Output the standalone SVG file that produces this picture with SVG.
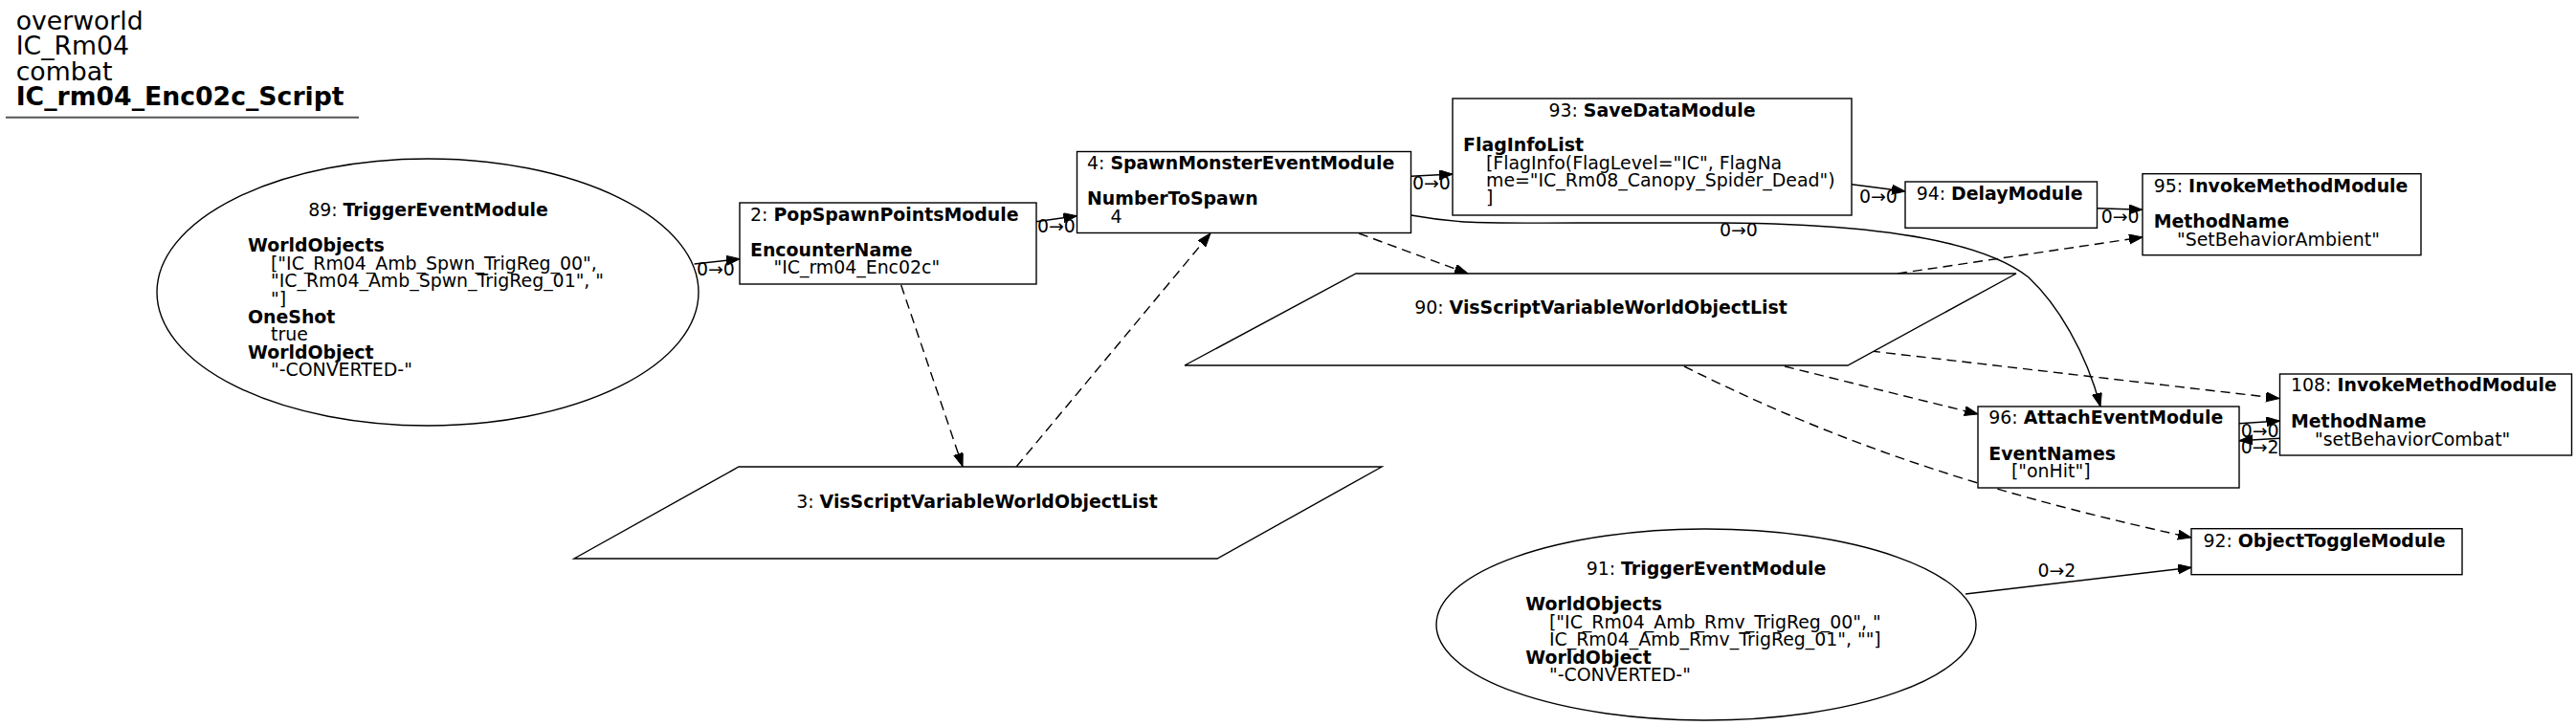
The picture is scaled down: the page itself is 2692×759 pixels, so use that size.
<svg xmlns="http://www.w3.org/2000/svg" width="2692" height="759" viewBox="0 0 2692 759">
<style>
text{font-family:"DejaVu Sans","Liberation Sans",sans-serif;font-size:18.9px;fill:#000}
.b{font-weight:bold}
.t{font-size:26.7px}
.shape{fill:#fff;stroke:#000;stroke-width:1.4}
.e{fill:none;stroke:#000;stroke-width:1.4}
.d{fill:none;stroke:#000;stroke-width:1.4;stroke-dasharray:10,6}
</style>
<defs>
<marker id="ah" markerUnits="userSpaceOnUse" markerWidth="16" markerHeight="12" refX="14" refY="5" orient="auto">
<path d="M0,0 L14,5 L0,10 z" fill="#000" stroke="#000" stroke-width="1"/>
</marker>
</defs>
<rect width="2692" height="759" fill="#fff"/>
<g id="title">
<text class="t" x="16.7" y="30.5">overworld</text>
<text class="t" x="16.7" y="57.2">IC_Rm04</text>
<text class="t" x="16.7" y="83.6">combat</text>
<text class="t b" x="16.7" y="110">IC_rm04_Enc02c_Script</text>
<line x1="6" y1="122.7" x2="375" y2="122.7" stroke="#555" stroke-width="2"/>
</g>
<g id="connectors">
<path class="e" d="M725.5,276 L773,270.7" marker-end="url(#ah)"/>
<text x="728" y="288">0→0</text>
<path class="e" d="M1082.5,231.7 L1125.5,225.7" marker-end="url(#ah)"/>
<text x="1084" y="243.3">0→0</text>
<path class="e" d="M1474.5,184.3 L1518,182" marker-end="url(#ah)"/>
<text x="1476" y="198.3">0→0</text>
<path class="e" d="M1935,192.7 L1991,200" marker-end="url(#ah)"/>
<text x="1943" y="211.7">0→0</text>
<path class="e" d="M2191.7,217.7 L2238.7,219.3" marker-end="url(#ah)"/>
<text x="2195.7" y="233.3">0→0</text>
<path class="e" d="M1474.5,225 C1530,235 1560,233 1650,233 L1800,233 C1950,234 2070,250 2120,290 C2150,318 2180,368 2195,425" marker-end="url(#ah)"/>
<text x="1797" y="246.7">0→0</text>
<path class="e" d="M2340,442.7 L2382.5,440" marker-end="url(#ah)"/>
<text x="2341.7" y="457.3">0→0</text>
<path class="e" d="M2382.5,458.3 L2340,460.7" marker-end="url(#ah)"/>
<text x="2341.7" y="474">0→2</text>
<path class="e" d="M2054,621 L2290,593.3" marker-end="url(#ah)"/>
<text x="2129.5" y="603.3">0→2</text>
<path class="d" d="M941.7,298 L1006,487.7" marker-end="url(#ah)"/>
<path class="d" d="M1062.3,487.7 L1265,244" marker-end="url(#ah)"/>
<path class="d" d="M1420,244 L1534,286" marker-end="url(#ah)"/>
<path class="d" d="M1983,286 L2239,248" marker-end="url(#ah)"/>
<path class="d" d="M1955,367 L2382,416.5" marker-end="url(#ah)"/>
<path class="d" d="M1865,383 L2067,433" marker-end="url(#ah)"/>
<path class="d" d="M1760,383 C1900,453 2050,510 2290,562" marker-end="url(#ah)"/>
</g>
<g id="n89">
<ellipse class="shape" cx="447" cy="305.5" rx="283" ry="139.5"/>
<text x="447.5" y="226" text-anchor="middle">89: <tspan class="b">TriggerEventModule</tspan></text>
<text class="b" x="259" y="263.2">WorldObjects</text>
<text x="283" y="281.8">["IC_Rm04_Amb_Spwn_TrigReg_00",</text>
<text x="283" y="300.4">"IC_Rm04_Amb_Spwn_TrigReg_01", "</text>
<text x="283" y="319">"]</text>
<text class="b" x="259" y="337.6">OneShot</text>
<text x="283" y="356.2">true</text>
<text class="b" x="259" y="374.8">WorldObject</text>
<text x="283" y="393.4">"-CONVERTED-"</text>
</g>
<g id="n2">
<rect class="shape" x="773" y="212" width="310" height="85"/>
<text x="784" y="230.7">2: <tspan class="b">PopSpawnPointsModule</tspan></text>
<text class="b" x="784" y="267.7">EncounterName</text>
<text x="808.5" y="286">"IC_rm04_Enc02c"</text>
</g>
<g id="n4">
<rect class="shape" x="1125.5" y="158.5" width="349" height="85"/>
<text x="1136" y="176.7">4: <tspan class="b">SpawnMonsterEventModule</tspan></text>
<text class="b" x="1136" y="214.3">NumberToSpawn</text>
<text x="1160.5" y="232.7">4</text>
</g>
<g id="n3">
<polygon class="shape" points="772,488 1444,488 1272,584 600,584"/>
<text x="1021" y="530.5" text-anchor="middle">3: <tspan class="b">VisScriptVariableWorldObjectList</tspan></text>
</g>
<g id="n90">
<polygon class="shape" points="1417,286 2107,286 1931,382 1238,382"/>
<text x="1673" y="328.3" text-anchor="middle">90: <tspan class="b">VisScriptVariableWorldObjectList</tspan></text>
</g>
<g id="n93">
<rect class="shape" x="1518" y="103" width="417" height="122"/>
<text x="1726.5" y="121.7" text-anchor="middle">93: <tspan class="b">SaveDataModule</tspan></text>
<text class="b" x="1529" y="158.3">FlagInfoList</text>
<text x="1553" y="176.7">[FlagInfo(FlagLevel="IC", FlagNa</text>
<text x="1553" y="195">me="IC_Rm08_Canopy_Spider_Dead")</text>
<text x="1553" y="213.3">]</text>
</g>
<g id="n94">
<rect class="shape" x="1991" y="190" width="200.5" height="48.3"/>
<text x="2002.7" y="209.3">94: <tspan class="b">DelayModule</tspan></text>
</g>
<g id="n95">
<rect class="shape" x="2239" y="181.7" width="291" height="85"/>
<text x="2250.7" y="201">95: <tspan class="b">InvokeMethodModule</tspan></text>
<text class="b" x="2250.7" y="238.3">MethodName</text>
<text x="2275" y="256.7">"SetBehaviorAmbient"</text>
</g>
<g id="n96">
<rect class="shape" x="2067" y="425" width="273" height="85"/>
<text x="2078.3" y="443.3">96: <tspan class="b">AttachEventModule</tspan></text>
<text class="b" x="2078.3" y="480.7">EventNames</text>
<text x="2102" y="499.3">["onHit"]</text>
</g>
<g id="n108">
<rect class="shape" x="2382.5" y="391" width="305" height="85"/>
<text x="2394" y="409.3">108: <tspan class="b">InvokeMethodModule</tspan></text>
<text class="b" x="2394" y="446.7">MethodName</text>
<text x="2419" y="465.7">"setBehaviorCombat"</text>
</g>
<g id="n92">
<rect class="shape" x="2290" y="552.7" width="283" height="48"/>
<text x="2302.4" y="571.7">92: <tspan class="b">ObjectToggleModule</tspan></text>
</g>
<g id="n91">
<ellipse class="shape" cx="1783" cy="653" rx="282" ry="100"/>
<text x="1783" y="601" text-anchor="middle">91: <tspan class="b">TriggerEventModule</tspan></text>
<text class="b" x="1594.3" y="638">WorldObjects</text>
<text x="1619" y="656.5">["IC_Rm04_Amb_Rmv_TrigReg_00", "</text>
<text x="1619" y="675">IC_Rm04_Amb_Rmv_TrigReg_01", ""]</text>
<text class="b" x="1594.3" y="693.5">WorldObject</text>
<text x="1619" y="712">"-CONVERTED-"</text>
</g>
</svg>
